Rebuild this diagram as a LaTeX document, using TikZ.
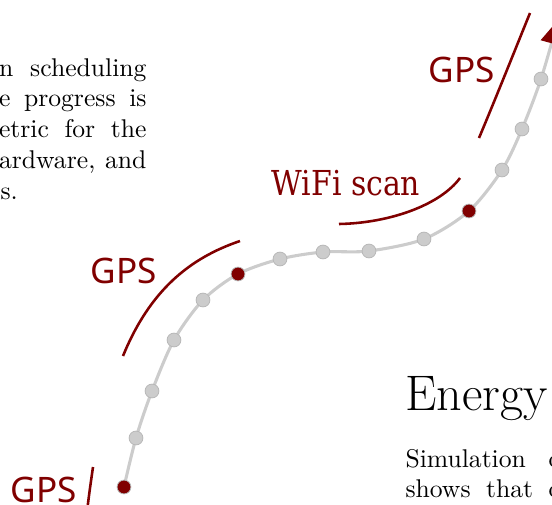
\documentclass[tikz,border=0pt]{standalone}
\usepackage{fontspec}
\usepackage{tikz}
\usetikzlibrary{arrows.meta}
\newfontfamily\labelsans{Noto Sans}
\newfontfamily\labelserif[FakeStretch=0.87]{DejaVu Serif}
\definecolor{maroon700}{HTML}{800000}
\definecolor{grey300}  {HTML}{CCCCCC}
\definecolor{grey400}  {HTML}{B8B8B8}
\tikzset{
  track/.style ={draw=grey300, line width=1.2pt},
  fix/.style   ={circle, minimum size=5.4pt, inner sep=0pt, line width=0.3pt,
                 draw=grey400, fill=grey300},
  fixs/.style  ={fix, fill=maroon700},
  span/.style  ={draw=maroon700, line width=1pt},
  tag/.style   ={font=\labelsans\fontsize{13.7}{16}\selectfont,
                 text=maroon700, inner sep=0pt, anchor=base west},
  tagw/.style  ={font=\labelserif\fontsize{13.4}{16}\selectfont,
                 text=maroon700, inner sep=0pt, anchor=base west},
  body/.style  ={font=\fontsize{10}{12}\selectfont, inner sep=0pt,
                 anchor=base east},
  bodyl/.style ={body, anchor=base west}
}

\begin{document}
\begin{tikzpicture}[x=0.39pt, y=-0.39pt]
\useasboundingbox (0,0) rectangle (552,504);
\clip (0,0) rectangle (552,504);
% text of the page around the figure
\node[body] (l1) at (147,76)    {\hbox to 57.5pt{n\hfill scheduling}};
\node[body] (l2) at (147,106.8) {\hbox to 57.5pt{e\hfill progress\hfill is}};
\node[body] (l3) at (147,137.5) {\hbox to 57.5pt{etric\hfill for\hfill the}};
\node[body] (l4) at (147,168.3) {\hbox to 57.5pt{ardware,\hfill and}};
\node[bodyl] (l5) at (0,199)    {s.};
\node[bodyl, font=\fontsize{19.5}{23}\selectfont] (hd) at (405,410) {Energy};
\node[bodyl] (r1) at (405,467)  {\hbox to 60.8pt{Simulation\hfill o}};
\node[bodyl] (r2) at (405,497.8){\hbox to 60.8pt{shows\hfill that\hfill o}};

% the track
\foreach \px/\py [count=\i from 0] in {124/487, 136/438, 152/391, 174/340,
    203/300, 238/274, 280/259, 323/252, 369/251, 424/239, 469/211,
    502/170, 522/129, 541/79}
  \coordinate (t\i) at (\px,\py);
\coordinate (tip) at (558,20);
\draw[track, -{Triangle[length=9.4pt, width=8.6pt, color=maroon700]}]
  plot[smooth] coordinates {(t0) (t1) (t2) (t3) (t4) (t5) (t6) (t7) (t8)
                            (t9) (t10) (t11) (t12) (t13) (tip)};
\foreach \i in {1,2,3,4,6,7,8,9,11,12,13}
  \node[fix] (d\i) at (t\i) {};
\foreach \i in {0,5,10}
  \node[fixs] (d\i) at (t\i) {};

% which sensor gave the fix
\draw[span] (86,520) .. controls (89,495) .. (93,467);
\draw[span] (123,356) .. controls (150,290) and (190,258) .. (240,241);
\draw[span] (339,224) .. controls (390,223) and (440,205) .. (460,178);
\draw[span] (479,138) .. controls (495,100) and (515,50) .. (530,13);
\node[tag]  (g1) at (10,502)  {GPS};
\node[tag]  (g2) at (90,283)  {GPS};
\node[tagw] (w1) at (271,195) {WiFi scan};
\node[tag]  (g3) at (428,82)  {GPS};
\end{tikzpicture}
\end{document}
